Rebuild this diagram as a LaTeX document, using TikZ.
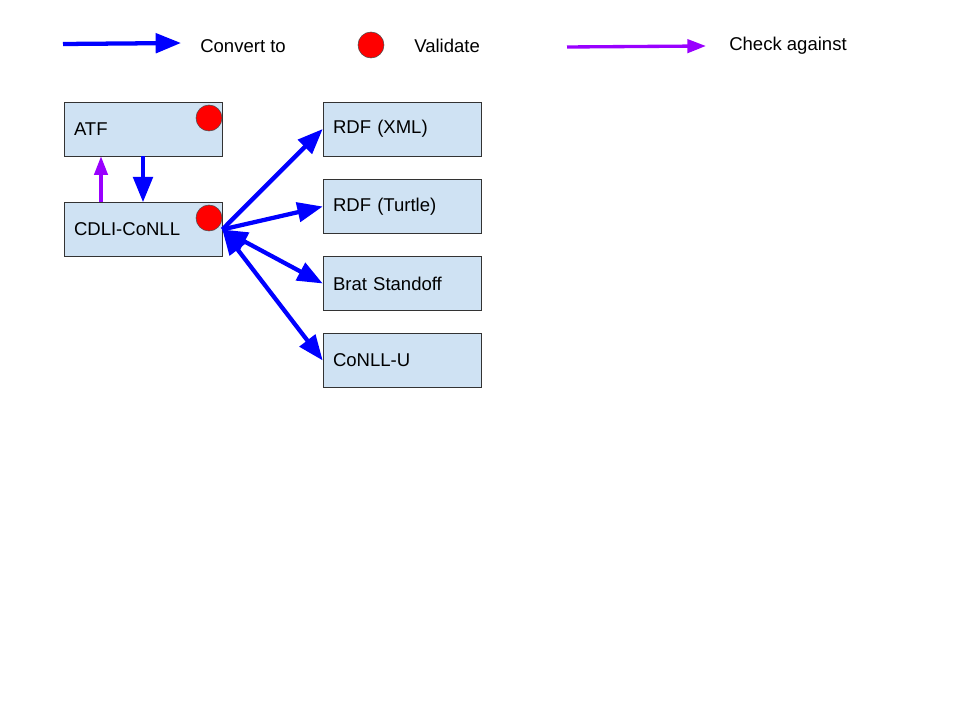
\documentclass[tikz,border=0pt]{standalone}
\usepackage{fontspec}
\setmainfont{Liberation Sans}
\usepackage{xcolor}
\usetikzlibrary{arrows.meta}
\definecolor{boxfill}{HTML}{CFE2F3}
\definecolor{convblue}{HTML}{0000FF}
\definecolor{checkpurple}{HTML}{9900FF}
\definecolor{validred}{HTML}{FF0000}
\tikzstyle{format} = [rectangle, minimum width=118.5pt, minimum height=40.5pt, text width=103.5pt, inner xsep=7.5pt, align=left, draw=black!80, fill=boxfill, font=\fontsize{13.9}{16}\selectfont]
\tikzstyle{validdot} = [circle, minimum size=19.5pt, inner sep=0pt, draw=black!70, fill=validred]
\tikzstyle{legendtext} = [anchor=west, inner sep=0pt, font=\fontsize{13.9}{16}\selectfont]
\tikzstyle{convert} = [line width=3.2pt, draw=convblue, -{Triangle[length=19pt,width=14.5pt]}]
\tikzstyle{convertboth} = [line width=3.2pt, draw=convblue, {Triangle[length=19pt,width=14.5pt]}-{Triangle[length=19pt,width=14.5pt]}]
\tikzstyle{check} = [line width=2.5pt, draw=checkpurple, -{Triangle[length=14pt,width=10pt]}]

\begin{document}
\begin{tikzpicture}[x=0.75pt,y=-0.75pt]
		\useasboundingbox (0,0) rectangle (960,720);
		% legend
		\coordinate (convA) at (63,44);
		\coordinate (convB) at (181,43);
		\draw [convert] (convA) -- (convB);
		\node (convtext) [legendtext] at (200,46) {Convert to};
		\node (validdot) [validdot] at (371,45) {};
		\node (validtext) [legendtext] at (414,46) {Validate};
		\coordinate (checkA) at (567,47);
		\coordinate (checkB) at (706,46);
		\draw [check] (checkA) -- (checkB);
		\node (checktext) [legendtext] at (729,46) {Check against};
		% formats
		\node (atf) [format] at (143,129) {ATF};
		\node (cdli) [format] at (143,229.5) {CDLI-CoNLL};
		\node (rdfxml) [format] at (402,129) {RDF (XML)};
		\node (rdfttl) [format] at (402,206.5) {RDF (Turtle)};
		\node (brat) [format] at (402,283.5) {Brat Standoff};
		\node (conllu) [format] at (402,360.5) {CoNLL-U};
		\node (atfdot) [validdot] at (209,118) {};
		\node (cdlidot) [validdot] at (209,218) {};
		% connectors
		\draw [convert] (atf.south) -- (cdli.north);
		\draw [check] ([xshift=-31.5pt]cdli.north) -- ([xshift=-31.5pt]atf.south);
		\draw [convert] (cdli.east) -- (rdfxml.west);
		\draw [convert] (cdli.east) -- (rdfttl.west);
		\draw [convertboth] (cdli.east) -- (brat.west);
		\draw [convertboth] (cdli.east) -- (conllu.west);
	\end{tikzpicture}
\end{document}
